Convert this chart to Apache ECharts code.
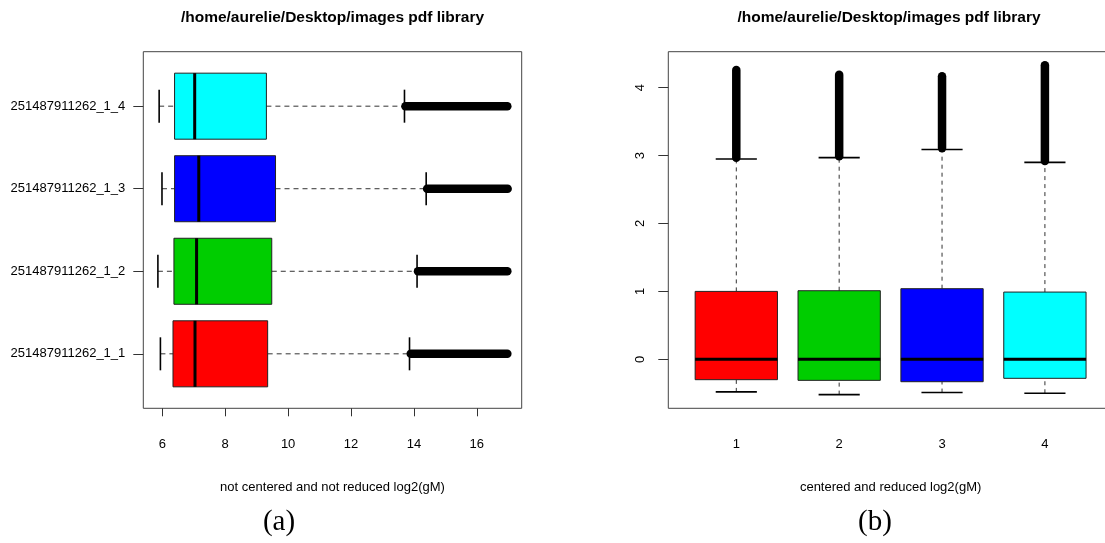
<!DOCTYPE html>
<html>
<head>
<meta charset="utf-8">
<script src="https://cdn.jsdelivr.net/npm/echarts@6/dist/echarts.min.js"></script>
<style>
html,body{margin:0;padding:0;background:#fff;}
#chart{width:1105px;height:543px;}
</style>
</head>
<body>
<div id="chart"></div>
<script>
// ---------- data ----------
const titleText = '/home/aurelie/Desktop/images pdf library';
const boxColors = ['#FF0000', '#00CD00', '#0000FF', '#00FFFF'];

// (a) not centered, horizontal boxes
const categoriesA = ['251487911262_1_1', '251487911262_1_2', '251487911262_1_3', '251487911262_1_4'];
const lowerA      = [5.94, 5.86, 5.99, 5.90];
const q1A         = [6.34, 6.37, 6.39, 6.39];
const medianA     = [7.04, 7.09, 7.16, 7.03];
const q3A         = [9.35, 9.48, 9.60, 9.31];
const upperA      = [13.86, 14.10, 14.39, 13.70];
const outlierMinA = [13.90, 14.13, 14.42, 13.73];
const outlierMaxA = [16.97, 16.97, 16.98, 16.97];
const xTicksA     = [6, 8, 10, 12, 14, 16];
const axisTitleA  = 'not centered and not reduced log2(gM)';

// (b) centered and reduced, vertical boxes
const categoriesB = ['1', '2', '3', '4'];
const lowerB      = [-0.48, -0.52, -0.49, -0.50];
const q1B         = [-0.30, -0.31, -0.33, -0.28];
const medianB     = [0, 0, 0, 0];
const q3B         = [1.00, 1.01, 1.04, 0.99];
const upperB      = [2.95, 2.97, 3.09, 2.90];
const outlierMinB = [2.97, 2.99, 3.11, 2.92];
const outlierMaxB = [4.26, 4.19, 4.17, 4.33];
const yTicksB     = [0, 1, 2, 3, 4];
const axisTitleB  = 'centered and reduced log2(gM)';

// ---------- build ----------
const FONT = '"Liberation Sans", Arial, sans-serif';
const rowsA = categoriesA.map((c, i) => [i + 1, lowerA[i], q1A[i], medianA[i], q3A[i], upperA[i], outlierMinA[i], outlierMaxA[i]]);
const rowsB = categoriesB.map((c, i) => [i + 1, lowerB[i], q1B[i], medianB[i], q3B[i], upperB[i], outlierMinB[i], outlierMaxB[i]]);

function boxRenderer(horizontal, dash) {
  return function (params, api) {
    const idx = params.dataIndex;
    const pos = api.value(0);
    const lo = api.value(1), q1 = api.value(2), med = api.value(3), q3 = api.value(4),
          hi = api.value(5), oMin = api.value(6), oMax = api.value(7);
    const band = horizontal ? api.size([0, 1])[1] : api.size([1, 0])[0];
    const halfBox = band * 0.4, halfCap = band * 0.2;
    const P = (val, off) => {
      const c = horizontal ? api.coord([val, pos]) : api.coord([pos, val]);
      return horizontal ? [c[0], c[1] + off] : [c[0] + off, c[1]];
    };
    const seg = (a, b, style) => ({ type: 'line', shape: { x1: a[0], y1: a[1], x2: b[0], y2: b[1] }, style: style });
    const a = P(q1, -halfBox), b = P(q3, halfBox);
    const rect = { x: Math.min(a[0], b[0]), y: Math.min(a[1], b[1]), width: Math.abs(b[0] - a[0]), height: Math.abs(b[1] - a[1]) };
    const whiskerStyle = { stroke: '#333', lineWidth: 1, lineDash: dash, fill: null };
    const capStyle = { stroke: '#000', lineWidth: 1.6 };
    return {
      type: 'group',
      children: [
        seg(P(lo, 0), P(q1, 0), whiskerStyle),
        seg(P(q3, 0), P(hi, 0), whiskerStyle),
        seg(P(oMin, 0), P(oMax, 0), { stroke: '#000', lineWidth: 8.5, lineCap: 'round' }),
        seg(P(lo, -halfCap), P(lo, halfCap), capStyle),
        seg(P(hi, -halfCap), P(hi, halfCap), capStyle),
        { type: 'rect', shape: rect, style: { fill: boxColors[idx], stroke: '#222', lineWidth: 1 } },
        seg(P(med, -halfBox), P(med, halfBox), { stroke: '#000', lineWidth: 3 })
      ]
    };
  };
}

const tickStyle = { color: '#333', width: 1 };
const labelBase = { fontSize: 13, color: '#000', fontFamily: FONT };

const option = {
  backgroundColor: '#fff',
  animation: false,
  grid: [
    { left: 143.3, top: 51.7, width: 378.4, height: 356.6, outerBoundsMode: 'none', containLabel: false, show: true, borderColor: '#444', borderWidth: 1, backgroundColor: 'transparent' },
    { left: 668.3, top: 51.7, width: 444.6, height: 356.6, outerBoundsMode: 'none', containLabel: false, show: true, borderColor: '#444', borderWidth: 1, backgroundColor: 'transparent' }
  ],
  xAxis: [
    {
      type: 'value', gridIndex: 0, min: 5.396, max: 17.427,
      axisLine: { show: false }, splitLine: { show: false },
      axisTick: { show: true, customValues: xTicksA, length: 8, lineStyle: tickStyle },
      axisLabel: Object.assign({ customValues: xTicksA, margin: 30 }, labelBase),
      name: axisTitleA, nameLocation: 'middle', nameGap: 73,
      nameTextStyle: { fontSize: 13, color: '#000', fontFamily: FONT }
    },
    {
      type: 'value', gridIndex: 1, min: 0.339, max: 4.661,
      axisLine: { show: false }, splitLine: { show: false },
      axisTick: { show: true, customValues: [1, 2, 3, 4], length: 8, lineStyle: tickStyle },
      axisLabel: Object.assign({ customValues: [1, 2, 3, 4], margin: 30, formatter: v => categoriesB[Math.round(v) - 1] }, labelBase),
      name: axisTitleB, nameLocation: 'middle', nameGap: 73,
      nameTextStyle: { fontSize: 13, color: '#000', fontFamily: FONT }
    }
  ],
  yAxis: [
    {
      type: 'value', gridIndex: 0, min: 0.34, max: 4.66,
      axisLine: { show: false }, splitLine: { show: false },
      axisTick: { show: true, customValues: [1, 2, 3, 4], length: 10, lineStyle: tickStyle },
      axisLabel: Object.assign({ customValues: [1, 2, 3, 4], margin: 18, formatter: v => categoriesA[Math.round(v) - 1] }, labelBase)
    },
    {
      type: 'value', gridIndex: 1, min: -0.7216, max: 4.530,
      axisLine: { show: false }, splitLine: { show: false },
      axisTick: { show: true, customValues: yTicksB, length: 10, lineStyle: tickStyle },
      axisLabel: Object.assign({ customValues: yTicksB, margin: 21, rotate: 90 }, labelBase)
    }
  ],
  series: [
    {
      type: 'custom', name: 'a', xAxisIndex: 0, yAxisIndex: 0,
      data: rowsA, encode: { x: [1, 2, 3, 4, 5, 6, 7], y: 0 },
      renderItem: boxRenderer(true, [5, 4]), silent: true
    },
    {
      type: 'custom', name: 'b', xAxisIndex: 1, yAxisIndex: 1,
      data: rowsB, encode: { x: 0, y: [1, 2, 3, 4, 5, 6, 7] },
      renderItem: boxRenderer(false, [4, 4]), silent: true
    }
  ],
  graphic: [
    { type: 'text', x: 332.5, y: 18, style: { text: titleText, font: 'bold 15.5px ' + FONT, fill: '#000', textAlign: 'center', textVerticalAlign: 'middle' } },
    { type: 'text', x: 889, y: 18, style: { text: titleText, font: 'bold 15.5px ' + FONT, fill: '#000', textAlign: 'center', textVerticalAlign: 'middle' } },
    { type: 'text', x: 279, y: 522, style: { text: '(a)', font: '29px "Liberation Serif", "DejaVu Serif", serif', fill: '#000', textAlign: 'center', textVerticalAlign: 'middle' } },
    { type: 'text', x: 875, y: 522, style: { text: '(b)', font: '29px "Liberation Serif", "DejaVu Serif", serif', fill: '#000', textAlign: 'center', textVerticalAlign: 'middle' } }
  ]
};

const chart = echarts.init(document.getElementById('chart'), null, { renderer: 'canvas' });
chart.setOption(option);
</script>
</body>
</html>
